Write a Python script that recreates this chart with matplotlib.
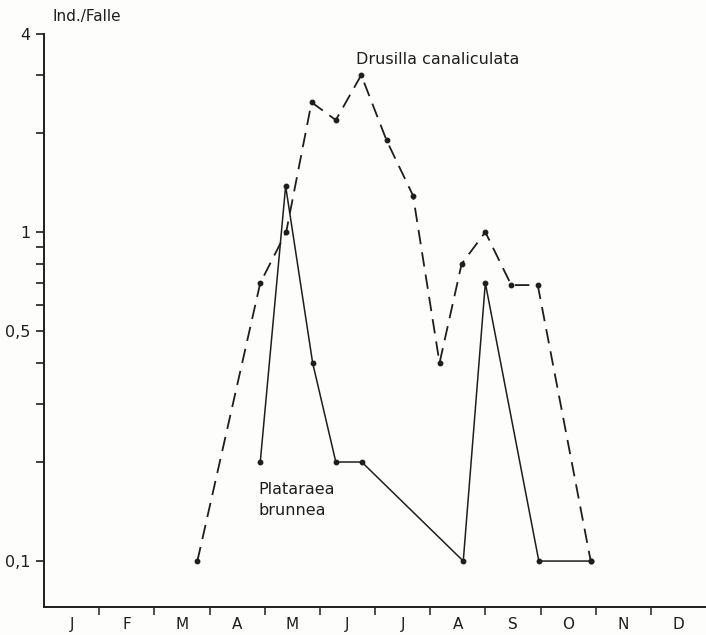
import numpy as np
import matplotlib
matplotlib.use("Agg")
import matplotlib.pyplot as plt

# month position (0 = start of January, 1 month per unit), values in Ind./Falle
drusilla_month = [2.78, 3.92, 4.39, 4.85, 5.29, 5.75, 6.21, 6.69, 7.17, 7.57, 8.0, 8.47, 8.95, 9.91]
drusilla_value = [0.1, 0.70, 1.0, 2.48, 2.19, 3.0, 1.90, 1.29, 0.40, 0.80, 1.0, 0.69, 0.69, 0.1]

plataraea_month = [3.92, 4.38, 4.87, 5.29, 5.76, 7.60, 8.0, 8.97, 9.91]
plataraea_value = [0.2, 1.38, 0.4, 0.2, 0.2, 0.1, 0.7, 0.1, 0.1]

months = ["J", "F", "M", "A", "M", "J", "J", "A", "S", "O", "N", "D"]
ytick_values = [0.1, 0.5, 1, 4]
ytick_labels = ["0,1", "0,5", "1", "4"]

ink = "#1e1e1e"
W, H = 706, 635
fig = plt.figure(figsize=(W / 100, H / 100), dpi=100, facecolor="#fdfdfb")
ax = fig.add_axes([44 / W, 1 - 607 / H, 1 - 44 / W, (607 - 34) / H])
ax.set_facecolor("#fdfdfb")

ax.plot(drusilla_month, drusilla_value, color=ink, lw=1.3,
        linestyle=(0, (8, 4.5)), marker="o", ms=3.2, clip_on=False)
ax.plot(plataraea_month, plataraea_value, color=ink, lw=1.1,
        marker="o", ms=3.2, clip_on=False)

ax.set_yscale("log")
ax.set_ylim(0.0725, 4.0)
ax.set_xlim(0, 12)

for s in ["top", "right"]:
    ax.spines[s].set_visible(False)
for s in ["left", "bottom"]:
    ax.spines[s].set_color(ink)
    ax.spines[s].set_linewidth(1.4)

ax.set_yticks(ytick_values)
ax.set_yticklabels(ytick_labels)
ax.set_yticks([0.2, 0.3, 0.4, 0.6, 0.7, 0.8, 0.9, 2, 3], minor=True)
ax.yaxis.set_minor_formatter(matplotlib.ticker.NullFormatter())
ax.tick_params(axis="y", which="both", direction="out", length=6, width=1.2,
               color=ink, labelsize=11.5, labelcolor=ink, pad=4)

ax.set_xticks(np.arange(1, 12))
ax.set_xticklabels([])
ax.set_xticks(np.arange(12) + 0.5, minor=True)
ax.set_xticklabels(months, minor=True)
ax.tick_params(axis="x", which="major", direction="out", length=6, width=1.1, color=ink)
ax.tick_params(axis="x", which="minor", length=0, pad=7, labelsize=11, labelcolor=ink)

fig.text(52 / W, 1 - 17 / H, "Ind./Falle", fontsize=11, color=ink, va="center", ha="left")
fig.text(356 / W, 1 - 60 / H, "Drusilla canaliculata", fontsize=11.5, color=ink, va="center", ha="left")
fig.text(258 / W, 1 - 500 / H, "Plataraea\nbrunnea", fontsize=11.5, color=ink, va="center",
         ha="left", linespacing=1.5)

fig.savefig("out.png", dpi=100, facecolor=fig.get_facecolor())
